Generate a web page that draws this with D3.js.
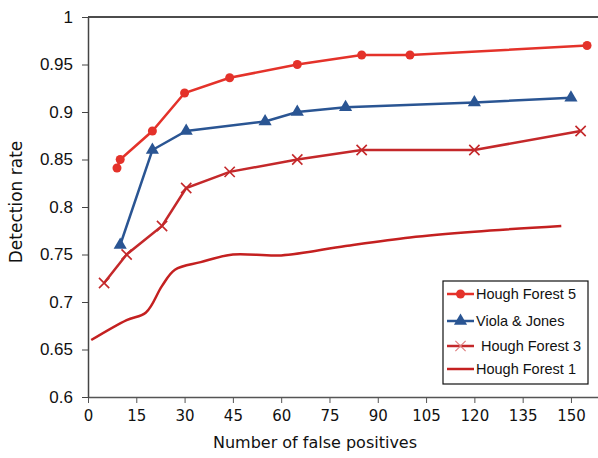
<!DOCTYPE html>
<html>
<head>
<meta charset="utf-8">
<script src="https://cdn.jsdelivr.net/npm/d3@7"></script>
<style>
  body { margin: 0; background: #fff; }
  text { font-family: "Liberation Sans", Arial, sans-serif; }
</style>
</head>
<body>
<div id="chart-area"></div>
<script>
// data
var hf5 = [[9, 0.841], [10, 0.85], [20, 0.88], [30, 0.92], [44, 0.936], [65, 0.95], [85, 0.96], [100, 0.96], [155, 0.97]];
var viola = [[10, 0.76], [20, 0.86], [30.5, 0.88], [55, 0.89], [65, 0.9], [80, 0.905], [120, 0.91], [150, 0.915]];
var hf3 = [[5, 0.72], [12, 0.75], [23, 0.78], [30.5, 0.82], [44, 0.837], [65, 0.85], [85, 0.86], [120, 0.86], [153, 0.88]];
var hf1 = [[1, 0.66], [12, 0.681], [18, 0.689], [23, 0.717], [27, 0.734], [35, 0.742], [45, 0.75], [60, 0.749], [80, 0.759], [100, 0.768], [120, 0.774], [147, 0.78]];

var xTicks = [0, 15, 30, 45, 60, 75, 90, 105, 120, 135, 150];
var yTicks = [0.6, 0.65, 0.7, 0.75, 0.8, 0.85, 0.9, 0.95, 1];
var legendNames = ["Hough Forest 5", "Viola & Jones", "Hough Forest 3", "Hough Forest 1"];

var width = 598;
var height = 458;

var svg = d3.select("#chart-area")
    .append("svg")
    .attr("width", width)
    .attr("height", height);

var x = d3.scaleLinear()
    .domain([0, 158.4])
    .range([88, 598]);

var y = d3.scaleLinear()
    .domain([0.6, 1])
    .range([397, 17]);

// top border
svg.append("line")
    .attr("x1", 88).attr("x2", 598)
    .attr("y1", y(1)).attr("y2", y(1))
    .attr("stroke", "#111").attr("stroke-width", 1.5);

// axes
var xAxis = svg.append("g")
    .attr("transform", "translate(0," + y(0.6) + ")")
    .call(d3.axisBottom(x).tickValues(xTicks).tickSize(6).tickSizeOuter(0).tickPadding(7));
xAxis.select(".domain").attr("stroke", "#555").attr("stroke-width", 1.5);
xAxis.selectAll(".tick line").attr("stroke", "#555");
xAxis.selectAll("text").attr("font-size", "16px").attr("fill", "#111")
    .style("font-family", "'DejaVu Sans', sans-serif").attr("font-size", "15px");

var yAxis = svg.append("g")
    .attr("transform", "translate(88,0)")
    .call(d3.axisLeft(y).tickValues(yTicks).tickSize(6).tickSizeOuter(0).tickPadding(9)
        .tickFormat(function(d) { return d3.format("")(+d.toFixed(2)); }));
yAxis.select(".domain").attr("stroke", "#444").attr("stroke-width", 1.5);
yAxis.selectAll(".tick line").attr("stroke", "#444");
yAxis.selectAll("text").attr("font-size", "17px").attr("fill", "#111");

// axis titles
svg.append("text")
    .attr("x", 315)
    .attr("y", 448)
    .attr("text-anchor", "middle")
    .attr("font-size", "16px")
    .style("font-family", "'DejaVu Sans', sans-serif")
    .attr("fill", "#111")
    .text("Number of false positives");

svg.append("text")
    .attr("transform", "rotate(-90)")
    .attr("x", -202)
    .attr("y", 22)
    .attr("text-anchor", "middle")
    .attr("font-size", "17px")
    .style("font-family", "'DejaVu Sans', sans-serif")
    .attr("fill", "#111")
    .text("Detection rate");

var line = d3.line()
    .x(function(d) { return x(d[0]); })
    .y(function(d) { return y(d[1]); });

var smooth = d3.line()
    .x(function(d) { return x(d[0]); })
    .y(function(d) { return y(d[1]); })
    .curve(d3.curveCatmullRom.alpha(0.5));

var c5 = "#e4322a", cV = "#2a5593", c3 = "#c4282a", c1 = "#c42020";

// Hough Forest 1
svg.append("path")
    .datum(hf1)
    .attr("fill", "none")
    .attr("stroke", c1)
    .attr("stroke-width", 2.5)
    .attr("d", smooth);

// Hough Forest 3
svg.append("path")
    .datum(hf3)
    .attr("fill", "none")
    .attr("stroke", c3)
    .attr("stroke-width", 2.5)
    .attr("d", line);

var cross = d3.symbol().type(d3.symbolX).size(70);
svg.selectAll(".hf3")
    .data(hf3)
    .enter().append("path")
    .attr("class", "hf3")
    .attr("transform", function(d) { return "translate(" + x(d[0]) + "," + y(d[1]) + ")"; })
    .attr("d", cross)
    .attr("stroke", c3)
    .attr("stroke-width", 1.6)
    .attr("fill", "none");

// Viola & Jones
svg.append("path")
    .datum(viola)
    .attr("fill", "none")
    .attr("stroke", cV)
    .attr("stroke-width", 2.5)
    .attr("d", line);

var tri = d3.symbol().type(d3.symbolTriangle).size(75);
svg.selectAll(".vj")
    .data(viola)
    .enter().append("path")
    .attr("class", "vj")
    .attr("transform", function(d) { return "translate(" + x(d[0]) + "," + y(d[1]) + ")"; })
    .attr("d", tri)
    .attr("fill", cV);

// Hough Forest 5
svg.append("path")
    .datum(hf5)
    .attr("fill", "none")
    .attr("stroke", c5)
    .attr("stroke-width", 2.5)
    .attr("d", line);

svg.selectAll(".hf5")
    .data(hf5)
    .enter().append("circle")
    .attr("class", "hf5")
    .attr("cx", function(d) { return x(d[0]); })
    .attr("cy", function(d) { return y(d[1]); })
    .attr("r", 4.5)
    .attr("fill", c5);

// legend
var lg = svg.append("g").attr("transform", "translate(443,281)");
lg.append("rect")
    .attr("width", 145).attr("height", 103)
    .attr("fill", "#fff").attr("stroke", "#111").attr("stroke-width", 1.2);

var legendColors = [c5, cV, c3, c1];
var legendRows = [13, 40, 65, 88];

legendNames.forEach(function(name, i) {
    var ly = legendRows[i];
    lg.append("line")
        .attr("x1", 4).attr("x2", 31)
        .attr("y1", ly).attr("y2", ly)
        .attr("stroke", legendColors[i]).attr("stroke-width", 2.5);
    if (i == 0) {
        lg.append("circle").attr("cx", 17.5).attr("cy", ly).attr("r", 4.5).attr("fill", c5);
    } else if (i == 1) {
        lg.append("path").attr("transform", "translate(17.5," + ly + ")").attr("d", tri).attr("fill", cV);
    } else if (i == 2) {
        lg.append("path").attr("transform", "translate(17.5," + ly + ")").attr("d", cross)
            .attr("stroke", "#e08080").attr("stroke-width", 1.2).attr("fill", "none");
    }
    lg.append("text")
        .attr("x", i == 2 ? 38 : 33)
        .attr("y", ly + 5)
        .attr("font-size", "14.5px")
        .attr("fill", "#111")
        .text(name);
});
</script>
</body>
</html>
